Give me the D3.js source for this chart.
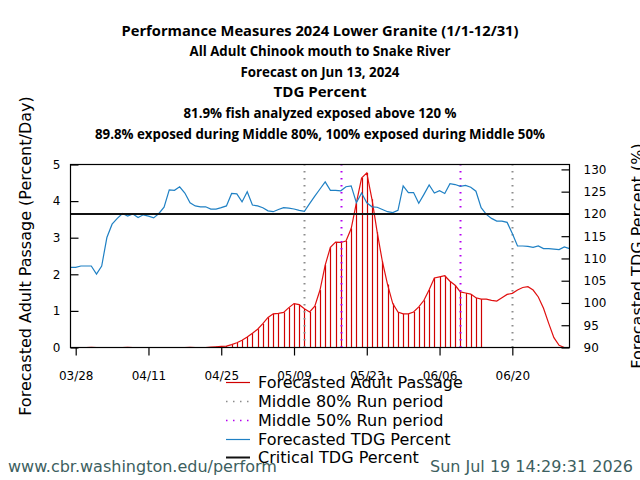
<!DOCTYPE html>
<html>
<head>
<meta charset="utf-8">
<script src="https://cdn.jsdelivr.net/npm/d3@7"></script>
<style>
  html, body { margin: 0; padding: 0; background: #fff; }
  svg { display: block; }
</style>
</head>
<body>
<svg id="chart" width="640" height="480"></svg>
<script>
// ---------------- DATA ----------------
const startDate = "2024-03-27";
const endDate = "2024-07-01";

// Forecasted TDG percent (right axis), daily from 03/27
const tdgPercent = [
  108.0, 108.0, 108.3, 108.3, 108.3, 106.5, 108.3, 114.7, 117.7, 119.0,
  120.1, 119.5, 120.0, 119.2, 119.8, 119.5, 119.1, 120.1, 121.5, 125.4,
  125.3, 126.1, 124.7, 122.5, 121.8, 121.6, 121.6, 121.1, 121.1, 121.4,
  121.8, 124.6, 124.5, 122.7, 125.0, 122.0, 121.8, 121.4, 120.7, 120.5,
  121.0, 121.4, 121.3, 121.1, 120.8, 120.6, 122.3, 124.0, 125.6, 127.2,
  125.3, 125.3, 125.2, 126.1, 126.3, 122.5, 124.7, 122.5, 121.6, 121.5,
  121.0, 120.5, 120.3, 120.8, 126.3, 124.8, 124.8, 122.4, 124.4, 126.5,
  124.7, 125.2, 124.6, 126.8, 126.6, 126.2, 126.4, 126.0, 125.1, 121.4,
  119.9, 119.0, 118.4, 118.4, 118.1, 115.6, 112.8, 112.8, 112.7, 112.5,
  112.8, 112.2, 112.2, 112.1, 112.0, 112.6, 112.2
];

// Forecasted adult passage (left axis, percent/day), daily from 03/27
const passagePct = [
  0, 0, 0, 0, 0.005, 0, 0, 0, 0, 0,
  0, 0.005, 0, 0, 0, 0, 0, 0, 0, 0,
  0, 0, 0, 0.005, 0, 0, 0, 0.01, 0.02, 0.03,
  0.04, 0.08, 0.13, 0.20, 0.29, 0.39, 0.50, 0.65, 0.82, 0.92,
  0.93, 0.96, 1.09, 1.20, 1.17, 1.06, 0.97, 1.13, 1.57, 2.25,
  2.74, 2.88, 2.87, 2.91, 3.25, 3.95, 4.63, 4.77, 4.05, 3.15,
  2.35, 1.72, 1.20, 0.97, 0.92, 0.92, 0.97, 1.11, 1.29, 1.58,
  1.90, 1.93, 1.96, 1.81, 1.70, 1.52, 1.49, 1.46, 1.36, 1.32,
  1.32, 1.29, 1.27, 1.36, 1.45, 1.48, 1.57, 1.64, 1.66, 1.57,
  1.38, 1.07, 0.66, 0.27, 0.06, 0.0, 0.0
];

// Days with passage bars (fish analyzed) : first N days
const analyzedDays = 80;

const run80Dates = ["2024-05-11", "2024-06-20"];
const run50Dates = ["2024-05-18", "2024-06-10"];
const criticalTDG = 120;

const xTickLabels = ["03/28", "04/11", "04/25", "05/09", "05/23", "06/06", "06/20"];
const leftTicks = [0, 1, 2, 3, 4, 5];
const rightTicks = [90, 95, 100, 105, 110, 115, 120, 125, 130];

const titleLines = [
  "Performance Measures 2024 Lower Granite (1/1-12/31)",
  "All Adult Chinook mouth to Snake River",
  "Forecast on Jun 13, 2024",
  "TDG Percent",
  "81.9% fish analyzed exposed above 120 %",
  "89.8% exposed during Middle 80%, 100% exposed during Middle 50%"
];
const leftTitle = "Forecasted Adult Passage (Percent/Day)";
const rightTitle = "Forecasted TDG Percent (%)";
const legendLabels = [
  "Forecasted Adult Passage",
  "Middle 80% Run period",
  "Middle 50% Run period",
  "Forecasted TDG Percent",
  "Critical TDG Percent"
];
const footerLeft = "www.cbr.washington.edu/perform";
const footerRight = "Sun Jul 19 14:29:31 2026";

// ---------------- LAYOUT ----------------
const parse = d3.timeParse("%Y-%m-%d");
const start = parse(startDate);
const dates = tdgPercent.map((_, i) => d3.timeDay.offset(start, i));

const L = 70.5, R = 569.5, T = 164.5, B = 347.5;
const svg = d3.select("#chart");
svg.append("rect").attr("width", 640).attr("height", 480).attr("fill", "#fff");

const x = d3.scaleTime().domain([start, parse(endDate)]).range([L, R]);
const yL = d3.scaleLinear().domain([0, 5]).range([B, T]);
const yR = d3.scaleLinear().domain([90, 131.1]).range([B, T]);

const sansFont = "'DejaVu Sans', sans-serif";

// Bars
const g = svg.append("g");
g.selectAll("line.bar")
  .data(passagePct.slice(0, analyzedDays).map((v, i) => ({ d: dates[i], v })))
  .join("line")
  .attr("class", "bar")
  .attr("x1", d => Math.round(x(d.d)) + 0.5)
  .attr("x2", d => Math.round(x(d.d)) + 0.5)
  .attr("y1", yL(0))
  .attr("y2", d => yL(d.v))
  .attr("stroke", "#d00000")
  .attr("stroke-width", 1.2);

// Passage curve
g.append("path")
  .datum(passagePct.map((v, i) => ({ d: dates[i], v })))
  .attr("fill", "none")
  .attr("stroke", "#e01010")
  .attr("stroke-width", 1.2)
  .attr("d", d3.line().x(d => x(d.d)).y(d => yL(d.v)));

// Run period dotted lines
function vline(ds, color) {
  g.selectAll(null).data(ds.map(parse)).join("line")
    .attr("x1", d => Math.round(x(d)) + 0.5)
    .attr("x2", d => Math.round(x(d)) + 0.5)
    .attr("y1", B).attr("y2", T)
    .attr("stroke", color)
    .attr("stroke-width", 2)
    .attr("stroke-dasharray", "1.5,5.5");
}
vline(run80Dates, "#8c8c8c");
vline(run50Dates, "#b400f0");

// TDG line
g.append("path")
  .datum(tdgPercent.map((v, i) => ({ d: dates[i], v })))
  .attr("fill", "none")
  .attr("stroke", "#1f80c4")
  .attr("stroke-width", 1.2)
  .attr("d", d3.line().x(d => x(d.d)).y(d => yR(d.v)));

// Critical line
g.append("line")
  .attr("x1", L).attr("x2", R)
  .attr("y1", yR(criticalTDG)).attr("y2", yR(criticalTDG))
  .attr("stroke", "#111").attr("stroke-width", 2);

// Frame
svg.append("rect")
  .attr("x", L).attr("y", T).attr("width", R - L).attr("height", B - T)
  .attr("fill", "none").attr("stroke", "#000").attr("stroke-width", 1.2);

// Axes
const xAxis = d3.axisBottom(x)
  .tickValues(xTickLabels.map(s => parse("2024-" + s.replace("/", "-"))))
  .tickFormat(d3.timeFormat("%m/%d"))
  .tickSize(8).tickSizeOuter(0).tickPadding(16);
const gx = svg.append("g").attr("transform", `translate(0,${B})`).call(xAxis);
gx.select(".domain").remove();

const leftAxis = d3.axisLeft(yL).tickValues(leftTicks).tickFormat(d3.format("d"))
  .tickSize(-8).tickSizeOuter(0).tickPadding(10);
const gl = svg.append("g").attr("transform", `translate(${L},0)`).call(leftAxis);
gl.select(".domain").remove();

const rightAxis = d3.axisRight(yR).tickValues(rightTicks).tickFormat(d3.format("d"))
  .tickSize(-8).tickSizeOuter(0).tickPadding(14);
const gr = svg.append("g").attr("transform", `translate(${R},0)`).call(rightAxis);
gr.select(".domain").remove();

[gx, gl, gr].forEach(a => {
  a.selectAll("text").attr("font-family", sansFont).attr("font-size", 12).attr("fill", "#000");
  a.selectAll("line").attr("stroke", "#000").attr("stroke-width", 1.2);
});
gl.selectAll(".tick line").attr("x1", 0);
gr.selectAll(".tick text").attr("x", 14);
gl.selectAll(".tick text").attr("x", -10);

// Axis titles
svg.append("text")
  .attr("transform", `translate(31,${(T + B) / 2}) rotate(-90)`)
  .attr("text-anchor", "middle")
  .attr("font-family", sansFont).attr("font-size", 16)
  .text(leftTitle);
svg.append("text")
  .attr("transform", `translate(643,${(T + B) / 2}) rotate(-90)`)
  .attr("text-anchor", "middle")
  .attr("font-family", sansFont).attr("font-size", 16)
  .text(rightTitle);

// Title
const titleY = [35.5, 56, 76.5, 97, 118, 139];
const titleW = [397, 261, 159, 93, 273, 450];
svg.append("g").selectAll("text").data(titleLines).join("text")
  .attr("x", 320)
  .attr("y", (d, i) => titleY[i])
  .attr("text-anchor", "middle")
  .attr("font-family", "'Open Sans', sans-serif")
  .attr("font-weight", 700)
  .attr("font-size", 13.5)
  .attr("textLength", (d, i) => titleW[i])
  .attr("lengthAdjust", "spacingAndGlyphs")
  .text(d => d);

// Legend
const legendY = [382.5, 401.5, 420.5, 439.5, 457.5];
const lg = svg.append("g");
const legendStyles = [
  { stroke: "#d00000", dash: null, w: 1.2 },
  { stroke: "#8c8c8c", dash: "1.5,5.5", w: 1.5 },
  { stroke: "#b400f0", dash: "1.5,5.5", w: 1.5 },
  { stroke: "#1f80c4", dash: null, w: 1.2 },
  { stroke: "#111", dash: null, w: 2 }
];
legendLabels.forEach((lab, i) => {
  const s = legendStyles[i];
  lg.append("line")
    .attr("x1", 226).attr("x2", 250)
    .attr("y1", legendY[i]).attr("y2", legendY[i])
    .attr("stroke", s.stroke).attr("stroke-width", s.w)
    .attr("stroke-dasharray", s.dash);
  lg.append("text")
    .attr("x", 258).attr("y", legendY[i]).attr("dy", "0.36em")
    .attr("font-family", sansFont).attr("font-size", 16)
    .text(lab);
});

// Footer
svg.append("text").attr("x", 8).attr("y", 471.5)
  .attr("font-family", sansFont).attr("font-size", 16).attr("fill", "#3d6060")
  .text(footerLeft);
svg.append("text").attr("x", 633).attr("y", 471.5).attr("text-anchor", "end")
  .attr("font-family", sansFont).attr("font-size", 16).attr("fill", "#3d6060")
  .text(footerRight);
</script>
</body>
</html>
